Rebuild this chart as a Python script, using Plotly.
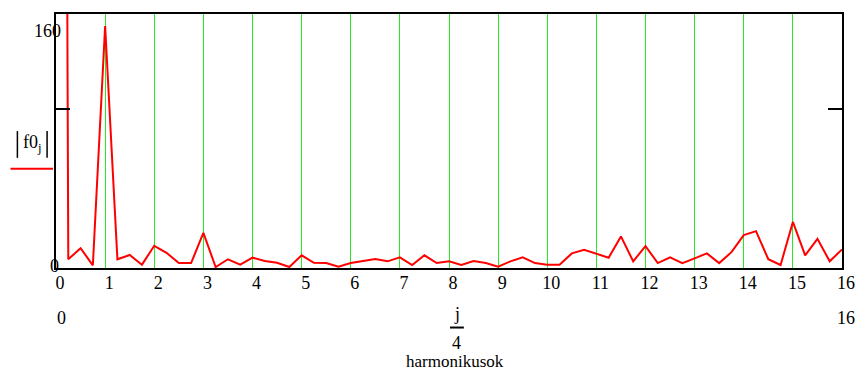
import plotly.graph_objects as go

# harmonic index j (0..64), plotted as j/4
j_index = list(range(65))
f0_abs = [2000, 5.5, 12.5, 1.7, 152.4, 5.5, 8.2, 2.1, 14.0, 9.6, 3.1, 3.1, 22.1,
          0.6, 5.5, 2.1, 6.5, 4.4, 3.3, 0.6, 8.0, 3.3, 3.1, 0.8, 3.1,
          4.4, 5.6, 4.2, 6.7, 1.9, 8.0, 3.1, 4.2, 1.9, 4.4, 3.1, 0.8,
          4.2, 6.7, 3.1, 2.1, 2.1, 9.2, 11.5, 9.2, 6.5, 19.9, 4.2, 13.8,
          3.1, 6.7, 3.1, 6.1, 9.2, 3.1, 10.0, 20.7, 23.2, 5.5, 1.9, 29.0,
          8.0, 18.4, 4.2, 11.7]
x_vals = [j / 4 for j in j_index]
x_ticks = list(range(0, 17))
y_range = [0, 160]

W, H = 867, 370
L, R, T, B = 56, 850, 12, 268
FONT = "Liberation Serif"


def px(x):
    return (x - L) / (R - L)


def py(y):
    return (B - y) / (B - T)


fig = go.Figure()
fig.add_trace(go.Scatter(x=x_vals, y=f0_abs, mode="lines",
                         line=dict(color="#ff0000", width=2), showlegend=False,
                         hoverinfo="skip"))

fig.update_layout(
    width=W, height=H,
    margin=dict(l=L, r=W - R, t=T, b=H - B, pad=0),
    paper_bgcolor="white", plot_bgcolor="white",
    font=dict(family=FONT, size=18, color="black"),
    showlegend=False,
)
fig.update_xaxes(range=[0, 16], tickvals=x_ticks, ticktext=[str(t) for t in x_ticks],
                 showgrid=True, gridcolor="rgb(40,230,40)", gridwidth=1,
                 showline=True, linecolor="black", linewidth=2, mirror=True,
                 ticks="", zeroline=False, ticklabelshift=4, ticklabelstandoff=-3,
                 tickfont=dict(family=FONT, size=18, color="black"))
fig.update_yaxes(range=y_range, tickvals=[100], showticklabels=False,
                 showgrid=False, zeroline=False,
                 showline=True, linecolor="black", linewidth=2, mirror="ticks",
                 ticks="inside", ticklen=14, tickwidth=2, tickcolor="black")

ann = []


def add_text(text, x, y, size=18, xanchor="center"):
    ann.append(dict(text=text, x=px(x), y=py(y), xref="paper", yref="paper",
                    showarrow=False, xanchor=xanchor, yanchor="middle",
                    font=dict(family=FONT, size=size, color="black")))


add_text("160", 47, 29)
add_text("0", 54, 266)
add_text("0", 62, 318)
add_text("16", 854, 318)
add_text("j", 461, 314)
add_text("4", 461, 344)
add_text("harmonikusok", 459, 362, size=17)
add_text("f0<sub>j</sub>", 32, 143)
fig.update_layout(annotations=ann)

shapes = []


def add_line(x0, y0, x1, y1, color="black", width=2):
    shapes.append(dict(type="line", xref="paper", yref="paper",
                       x0=px(x0), y0=py(y0), x1=px(x1), y1=py(y1),
                       line=dict(color=color, width=width)))


add_line(17, 130, 17, 157, width=1.5)
add_line(47, 130, 47, 157, width=1.5)
add_line(10, 168, 53, 168, color="#ff0000", width=2)
add_line(454, 328, 468, 328, width=2)
fig.update_layout(shapes=shapes)

fig.write_html("out.html", config={"displayModeBar": False},
               post_script="document.body.style.margin='0';document.body.style.overflow='hidden';")
